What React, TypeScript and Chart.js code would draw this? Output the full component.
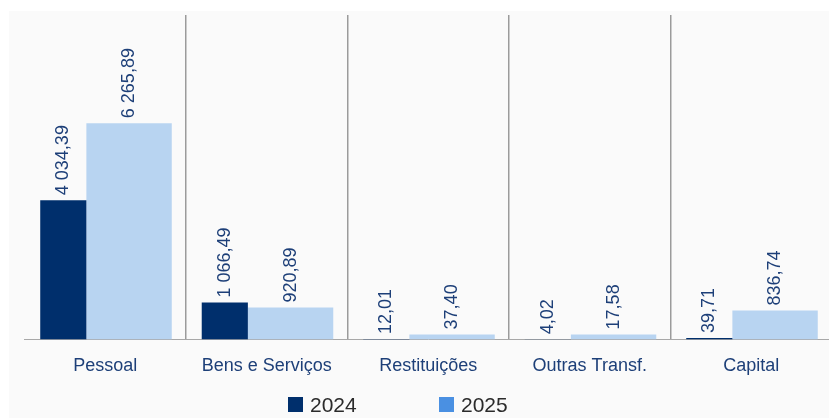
import React, { useEffect, useRef } from 'react';
import { Chart, registerables } from 'chart.js';

Chart.register(...registerables);

const categories = ['Pessoal', 'Bens e Serviços', 'Restituições', 'Outras Transf.', 'Capital'];
const values2024 = [4034.39, 1066.49, 12.01, 4.02, 39.71];
const values2025 = [6265.89, 920.89, 37.4, 17.58, 836.74];
const seriesLabels = ['2024', '2025'];
const yMax = 9400;

const DARK = '#002f6c';
const LIGHT = '#b8d4f1';
const LEGEND_2025 = '#4a90e2';
const LABEL = '#1d3f78';
const FONT = '"Liberation Sans", Arial, Helvetica, sans-serif';

function formatPt(v: number): string {
  const [i, d] = v.toFixed(2).split('.');
  return i.replace(/\B(?=(\d{3})+(?!\d))/g, ' ') + ',' + d;
}

const valueLabels = {
  id: 'valueLabels',
  afterDatasetsDraw(chart: any) {
    const ctx = chart.ctx;
    chart.data.datasets.forEach((ds: any, di: number) => {
      const meta = chart.getDatasetMeta(di);
      meta.data.forEach((el: any, i: number) => {
        const v = ds.data[i] as number;
        const { x, y } = el.getProps(['x', 'y'], true);
        ctx.save();
        ctx.translate(x, y - 5);
        ctx.rotate(-Math.PI / 2);
        ctx.font = `18px ${FONT}`;
        ctx.fillStyle = LABEL;
        ctx.textAlign = 'left';
        ctx.textBaseline = 'middle';
        ctx.fillText(formatPt(v), 0, 0);
        ctx.restore();
      });
    });
  },
};

export default function App() {
  const ref = useRef<HTMLCanvasElement | null>(null);

  useEffect(() => {
    if (!ref.current) return;
    const chart = new Chart(ref.current, {
      type: 'bar',
      data: {
        labels: categories,
        datasets: [
          {
            label: seriesLabels[0],
            data: values2024,
            backgroundColor: DARK,
            categoryPercentage: 1.039,
            barPercentage: 0.55,
          },
          {
            label: seriesLabels[1],
            data: values2025,
            backgroundColor: LIGHT,
            categoryPercentage: 0.59,
            barPercentage: 1.792,
            minBarLength: 5,
          },
        ],
      },
      options: {
        responsive: false,
        animation: false,
        layout: { padding: { left: 15.5, right: 3, top: 4, bottom: 25 } },
        plugins: {
          legend: { display: false },
          tooltip: { enabled: false },
        },
        scales: {
          x: {
            grid: {
              offset: true,
              drawTicks: false,
              lineWidth: 1.5,
              color: (c: any) =>
                typeof c.index === 'number' && c.index > 0 && c.index < categories.length
                  ? '#9b9b9b'
                  : 'rgba(0,0,0,0)',
            },
            border: { display: true, color: '#a8a8a8', width: 1 },
            ticks: {
              padding: 16,
              color: LABEL,
              font: { size: 18, family: FONT },
              maxRotation: 0,
              autoSkip: false,
            },
          },
          y: {
            display: false,
            min: 0,
            max: yMax,
          },
        },
      },
      plugins: [valueLabels],
    });
    return () => chart.destroy();
  }, []);

  const legendItems = [
    { text: seriesLabels[0], color: DARK, left: 279 },
    { text: seriesLabels[1], color: LEGEND_2025, left: 430 },
  ];

  return (
    <div
      style={{
        position: 'absolute',
        left: 9,
        top: 11,
        width: 820,
        height: 407,
        overflow: 'hidden',
        background: '#fafafa',
      }}
    >
      <canvas ref={ref} width={826} height={407} style={{ display: 'block' }} />
      {legendItems.map((it) => (
        <div
          key={it.text}
          style={{
            position: 'absolute',
            left: it.left,
            top: 383.5,
            height: 20,
            display: 'flex',
            alignItems: 'center',
            fontFamily: FONT,
            fontSize: 21,
            lineHeight: '20px',
            color: '#2b2b2b',
          }}
        >
          <span style={{ width: 15, height: 15, background: it.color, display: 'inline-block', marginRight: 7 }} />
          <span>{it.text}</span>
        </div>
      ))}
    </div>
  );
}
